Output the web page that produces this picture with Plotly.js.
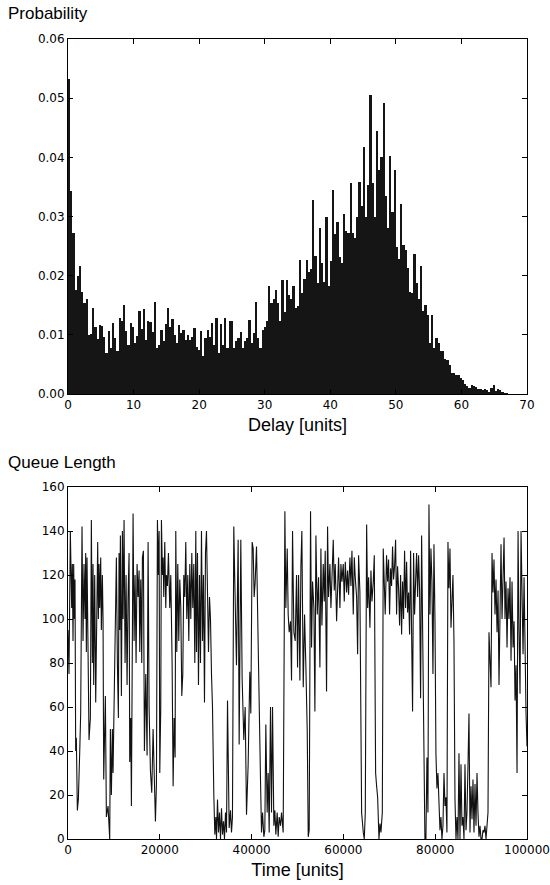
<!DOCTYPE html>
<html>
<head>
<meta charset="utf-8">
<script src="https://cdn.plot.ly/plotly-3.0.1.min.js"></script>
<style>html,body{margin:0;padding:0;background:#fff;}#chart{width:550px;height:885px;}</style>
</head>
<body>
<div id="chart"></div>
<script>
// ---- Top panel: delay histogram (200 bins from 0 to ~67.1) ----
const delayBinWidth = 0.3355;
const delayProbability = [
0.0532,0.0343,0.0272,0.0176,0.0199,0.0217,0.0173,0.0153,0.0160,0.0100,
0.0102,0.0146,0.0113,0.0093,0.0116,0.0115,0.0096,0.0069,0.0107,0.0078,
0.0120,0.0095,0.0072,0.0129,0.0124,0.0151,0.0106,0.0083,0.0120,0.0113,
0.0086,0.0098,0.0140,0.0110,0.0144,0.0092,0.0124,0.0121,0.0105,0.0155,
0.0077,0.0083,0.0109,0.0089,0.0118,0.0146,0.0113,0.0127,0.0099,0.0086,
0.0117,0.0103,0.0109,0.0092,0.0100,0.0092,0.0096,0.0111,0.0080,0.0075,
0.0106,0.0065,0.0095,0.0109,0.0097,0.0120,0.0082,0.0128,0.0070,0.0119,
0.0083,0.0128,0.0078,0.0123,0.0123,0.0078,0.0089,0.0095,0.0104,0.0078,
0.0089,0.0095,0.0125,0.0086,0.0103,0.0155,0.0095,0.0078,0.0109,0.0114,
0.0124,0.0182,0.0154,0.0160,0.0175,0.0154,0.0123,0.0192,0.0138,0.0193,
0.0168,0.0160,0.0182,0.0145,0.0148,0.0227,0.0171,0.0195,0.0227,0.0207,
0.0211,0.0328,0.0234,0.0187,0.0280,0.0221,0.0190,0.0300,0.0183,0.0225,
0.0345,0.0271,0.0291,0.0232,0.0221,0.0304,0.0275,0.0272,0.0356,0.0272,
0.0263,0.0300,0.0359,0.0317,0.0418,0.0299,0.0353,0.0505,0.0357,0.0300,
0.0445,0.0378,0.0400,0.0491,0.0335,0.0280,0.0402,0.0308,0.0379,0.0249,
0.0228,0.0321,0.0252,0.0244,0.0213,0.0173,0.0170,0.0236,0.0187,0.0160,
0.0217,0.0140,0.0151,0.0134,0.0086,0.0134,0.0078,0.0095,0.0086,0.0072,
0.0072,0.0060,0.0058,0.0049,0.0035,0.0035,0.0032,0.0032,0.0027,0.0024,
0.0017,0.0013,0.0010,0.0016,0.0014,0.0012,0.0009,0.0008,0.0006,0.0009,
0.0007,0.0004,0.0010,0.0015,0.0005,0.0008,0.0006,0.0003,0.0002,0.0002
];
const delayCenters = delayProbability.map((_, i) => (i + 0.5) * delayBinWidth);

// ---- Bottom panel: queue length over time ----
const queueTime = [
0,218,509,800,945,1090,1236,1381,1527,1672,1818,2036,2254,2545,2763,3053,3272,3490,3708,3853,
3999,4144,4362,4580,4871,5089,5307,5453,5598,5816,6034,6325,6470,6616,6761,6907,7125,7270,7488,7634,
7779,8142,8361,8724,8942,9088,9233,9451,9669,9815,10178,10542,10760,10978,11123,11269,11414,11632,11850,11996,
12214,12432,12650,12868,13086,13304,13450,13668,13813,14031,14177,14395,14613,14831,15049,15267,15485,15631,15849,16067,
16212,16430,16648,16939,17230,17448,17666,17957,18248,18539,18829,19047,19266,19484,19702,19847,19993,20211,20356,20574,
20720,20865,21083,21301,21447,21665,21883,22174,22392,22682,22901,23119,23337,23482,23700,23918,24136,24355,24573,24791,
25009,25227,25445,25663,25881,26099,26317,26536,26754,26972,27190,27408,27626,27844,27990,28208,28426,28644,28862,29080,
29298,29516,29734,29952,30171,30389,30607,30825,31043,31261,31479,31770,31988,32206,32352,32570,32788,33006,33224,33442,
33660,33878,34096,34314,34533,34751,35041,
35110,35400,35620,35830,36120,36340,36705,37070,37290,37650,37940,38300,38600,38890,39250,39610,39830,40120,40340,40560,
40780,41070,41290,41650,41940,42160,42380,42670,42880,43100,43390,43610,43830,44120,44340,44560,44850,45070,45280,45570,
45790,46010,46300,46520,46880,47250,47460,47760,47970,48190,48480,48700,48920,49210,49500,49790,50010,50230,50520,50740,
50950,51250,51540,51830,52120,52340,52550,52840,53060,53280,53570,53790,54010,54300,54590,54880,55100,55320,55610,55830,
56040,56330,56550,56770,57060,57280,57500,57790,58010,58220,58520,58730,58950,59240,59460,59680,59970,60190,60410,60700,
60910,61130,61420,61640,61860,62150,62370,62580,62880,63100,63310,63600,63970,64330,64550,64770,65060,65280,65490,65780,
66000,66220,66510,66730,67020,67240,67460,67750,67970,68180,68480,
68680,68900,69110,69400,69620,69840,70060,70280,70500,70710,70930,71150,71370,71590,71800,72020,72240,72460,72680,72890,
73110,73330,73550,73770,73980,74200,74420,74640,74860,75070,75290,75510,75730,75950,76170,76380,76600,76820,77040,77260,
77470,77760,77980,78200,78420,78640,78860,79070,79290,79510,79730,79950,80160,80380,80600,80820,81040,81250,81470,81690,
81910,82130,82340,82560,82780,83000,83220,83440,83650,83870,84090,84310,84530,84740,84960,85180,85400,85620,85830,86050,
86270,86490,86710,86920,87140,87360,87580,87800,88020,88230,88450,88670,88890,89110,89320,89540,89760,89980,90200,90410,
90630,90850,91070,91290,91500,91720,91940,92160,92380,92600,92810,93030,93250,93470,93690,93900,94120,94340,94560,94780,
95000,95210,95430,95650,95870,96080,96300,96520,96740,96960,97180,97390,97610,97830,98050,98270,98480,98700,98920,99140,
99360,99570,99790,100000
];
const queueLength = [
95,75,140,105,125,90,125,100,118,40,46,13,18,39,57,142,90,125,100,130,
85,128,75,45,55,145,80,125,70,120,62,110,135,100,125,105,128,95,120,100,
27,65,10,15,0,0,50,20,50,30,80,128,80,55,130,95,138,65,140,100,
145,80,120,70,110,130,35,55,15,120,148,90,120,80,125,110,122,85,118,80,
128,131,40,75,38,135,60,31,21,50,20,8,25,145,120,140,30,60,145,120,
128,110,135,105,120,115,130,105,120,80,24,55,37,140,85,125,90,118,105,65,
75,120,110,135,100,120,90,125,100,130,105,125,80,140,85,130,70,120,80,140,
90,120,62,130,140,118,85,110,100,75,60,20,2,10,0,18,3,12,0,14,
2,8,0,12,3,63,8,
5,13,3,10,142,117,79,136,43,136,73,45,60,11,34,76,57,135,132,110,
117,133,102,45,27,3,12,1,4,52,12,30,3,60,12,60,6,13,2,12,
1,10,6,12,3,149,105,132,102,94,99,72,140,94,90,120,78,120,72,124,
140,69,102,78,49,1,4,149,87,117,105,58,138,102,119,78,132,97,125,108,
131,67,142,110,125,105,122,136,113,125,99,117,128,105,125,117,125,108,126,112,
122,111,128,115,131,102,128,119,110,84,129,112,12,3,0,12,143,105,119,96,
122,108,117,129,30,24,19,0,7,3,12,
132,114,102,129,117,127,102,123,115,133,118,124,136,102,124,114,97,120,93,117,
100,131,105,126,103,112,93,131,94,58,130,102,117,130,110,129,113,64,138,102,
69,0,0,37,12,152,102,132,117,75,134,100,39,23,30,19,4,10,0,6,
30,15,19,3,135,114,132,96,105,120,90,18,0,10,0,39,0,34,6,10,
0,34,4,12,33,57,3,24,9,27,3,25,6,30,12,1,6,0,0,4,
3,6,0,9,12,94,84,69,130,112,127,102,118,94,113,70,102,134,100,117,
137,100,117,87,114,100,119,81,117,87,99,63,79,30,140,94,66,140,102,84,
119,81,57,42
];

const axisFont = {family: 'DejaVu Sans, sans-serif', size: 12, color: '#000'};
const labelFont = {family: 'Liberation Sans, Arial, sans-serif', size: 18, color: '#000'};

const commonAxis = {
  showline: true, mirror: 'ticks', linecolor: '#000', linewidth: 1,
  ticks: 'inside', ticklen: 5, tickcolor: '#000', tickwidth: 1,
  showgrid: false, zeroline: false, tickfont: axisFont
};

const traces = [
  {
    type: 'bar', x: delayCenters, y: delayProbability, width: delayBinWidth,
    marker: {color: '#151515', line: {width: 0}},
    xaxis: 'x', yaxis: 'y', hoverinfo: 'skip'
  },
  {
    type: 'scatter', mode: 'lines', x: queueTime, y: queueLength,
    line: {color: '#111', width: 1.1},
    xaxis: 'x2', yaxis: 'y2', hoverinfo: 'skip'
  }
];

const layout = {
  width: 550, height: 885,
  margin: {l: 68, r: 23, t: 39, b: 46},
  paper_bgcolor: '#fff', plot_bgcolor: '#fff',
  showlegend: false, bargap: 0,
  xaxis: Object.assign({}, commonAxis, {
    domain: [0, 1], anchor: 'y', range: [0, 70], dtick: 10, tick0: 0,
    title: {text: 'Delay [units]', font: labelFont, standoff: 6}
  }),
  yaxis: Object.assign({}, commonAxis, {
    domain: [0.55625, 1], anchor: 'x', range: [0, 0.06], dtick: 0.01, tick0: 0, tickformat: '.2f'
  }),
  xaxis2: Object.assign({}, commonAxis, {
    domain: [0, 1], anchor: 'y2', range: [0, 100000], dtick: 20000, tick0: 0, tickformat: 'd',
    title: {text: 'Time [units]', font: labelFont, standoff: 6}
  }),
  yaxis2: Object.assign({}, commonAxis, {
    domain: [0, 0.44], anchor: 'x2', range: [0, 160], dtick: 20, tick0: 0
  }),
  annotations: [
    {text: 'Probability', xref: 'paper', yref: 'paper', x: -0.136, y: 1.018, xanchor: 'left', yanchor: 'bottom',
     showarrow: false, font: {family: 'Liberation Sans, Arial, sans-serif', size: 17, color: '#000'}},
    {text: 'Queue Length', xref: 'paper', yref: 'paper', x: -0.136, y: 0.456, xanchor: 'left', yanchor: 'bottom',
     showarrow: false, font: {family: 'Liberation Sans, Arial, sans-serif', size: 17, color: '#000'}}
  ]
};

Plotly.newPlot('chart', traces, layout, {staticPlot: true, displayModeBar: false});
</script>
</body>
</html>
